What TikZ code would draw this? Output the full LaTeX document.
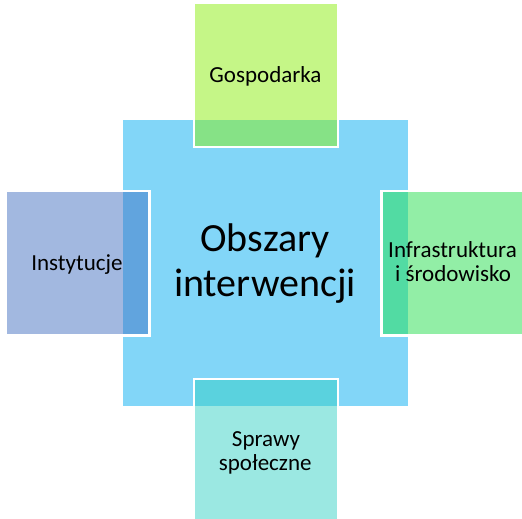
\documentclass[tikz,border=0pt]{standalone}
\usepackage{fontspec}
\setmainfont{Carlito}
\definecolor{cBlue}{RGB}{130,214,248}
\definecolor{cTop}{RGB}{197,246,135}
\definecolor{cTopD}{RGB}{134,226,134}
\definecolor{cLeft}{RGB}{162,184,224}
\definecolor{cLeftD}{RGB}{97,164,222}
\definecolor{cRight}{RGB}{146,238,166}
\definecolor{cRightD}{RGB}{82,219,163}
\definecolor{cBot}{RGB}{155,232,226}
\definecolor{cBotD}{RGB}{90,210,222}
\tikzset{
  sat/.style={draw=white, line width=2.5pt},
  small/.style={font=\fontsize{23}{24}\selectfont, anchor=base, inner sep=0pt},
  big/.style={font=\fontsize{40}{44}\selectfont, anchor=base, inner sep=0pt}
}
\begin{document}
\begin{tikzpicture}[x=1pt,y=-1pt]
\useasboundingbox (0,0) rectangle (522,519);
% central
\fill[cBlue] (122.5,120) rectangle (408,406);
% satellites
\path[sat, fill=cTop] (193.75,3.25) rectangle (337.75,147);
\path[sat, fill=cLeft] (5.75,191) rectangle (149.5,335.25);
\path[sat, fill=cRight] (381.5,191) rectangle (523.5,335.25);
\path[sat, fill=cBot] (193.75,378.75) rectangle (337.75,520.5);
% overlaps
\fill[cTopD] (195,120) rectangle (336.5,145.75);
\fill[cLeftD] (122.5,192.3) rectangle (148.3,334);
\fill[cRightD] (382.7,192.3) rectangle (408,334);
\fill[cBotD] (195,380) rectangle (336.5,406);
% texts
\node[big] (t1) at (265,251.7) {Obszary};
\node[big] (t2) at (265,296.5) {interwencji};
\node[small] (g) at (265.5,82) {Gospodarka};
\node[small] (i) at (77,270) {Instytucje};
\node[small] (r1) at (452.5,257.7) {Infrastruktura};
\node[small] (r2) at (453,281.7) {i środowisko};
\node[small] (s1) at (266,446) {Sprawy};
\node[small] (s2) at (265.2,470.7) {społeczne};
\end{tikzpicture}
\end{document}
